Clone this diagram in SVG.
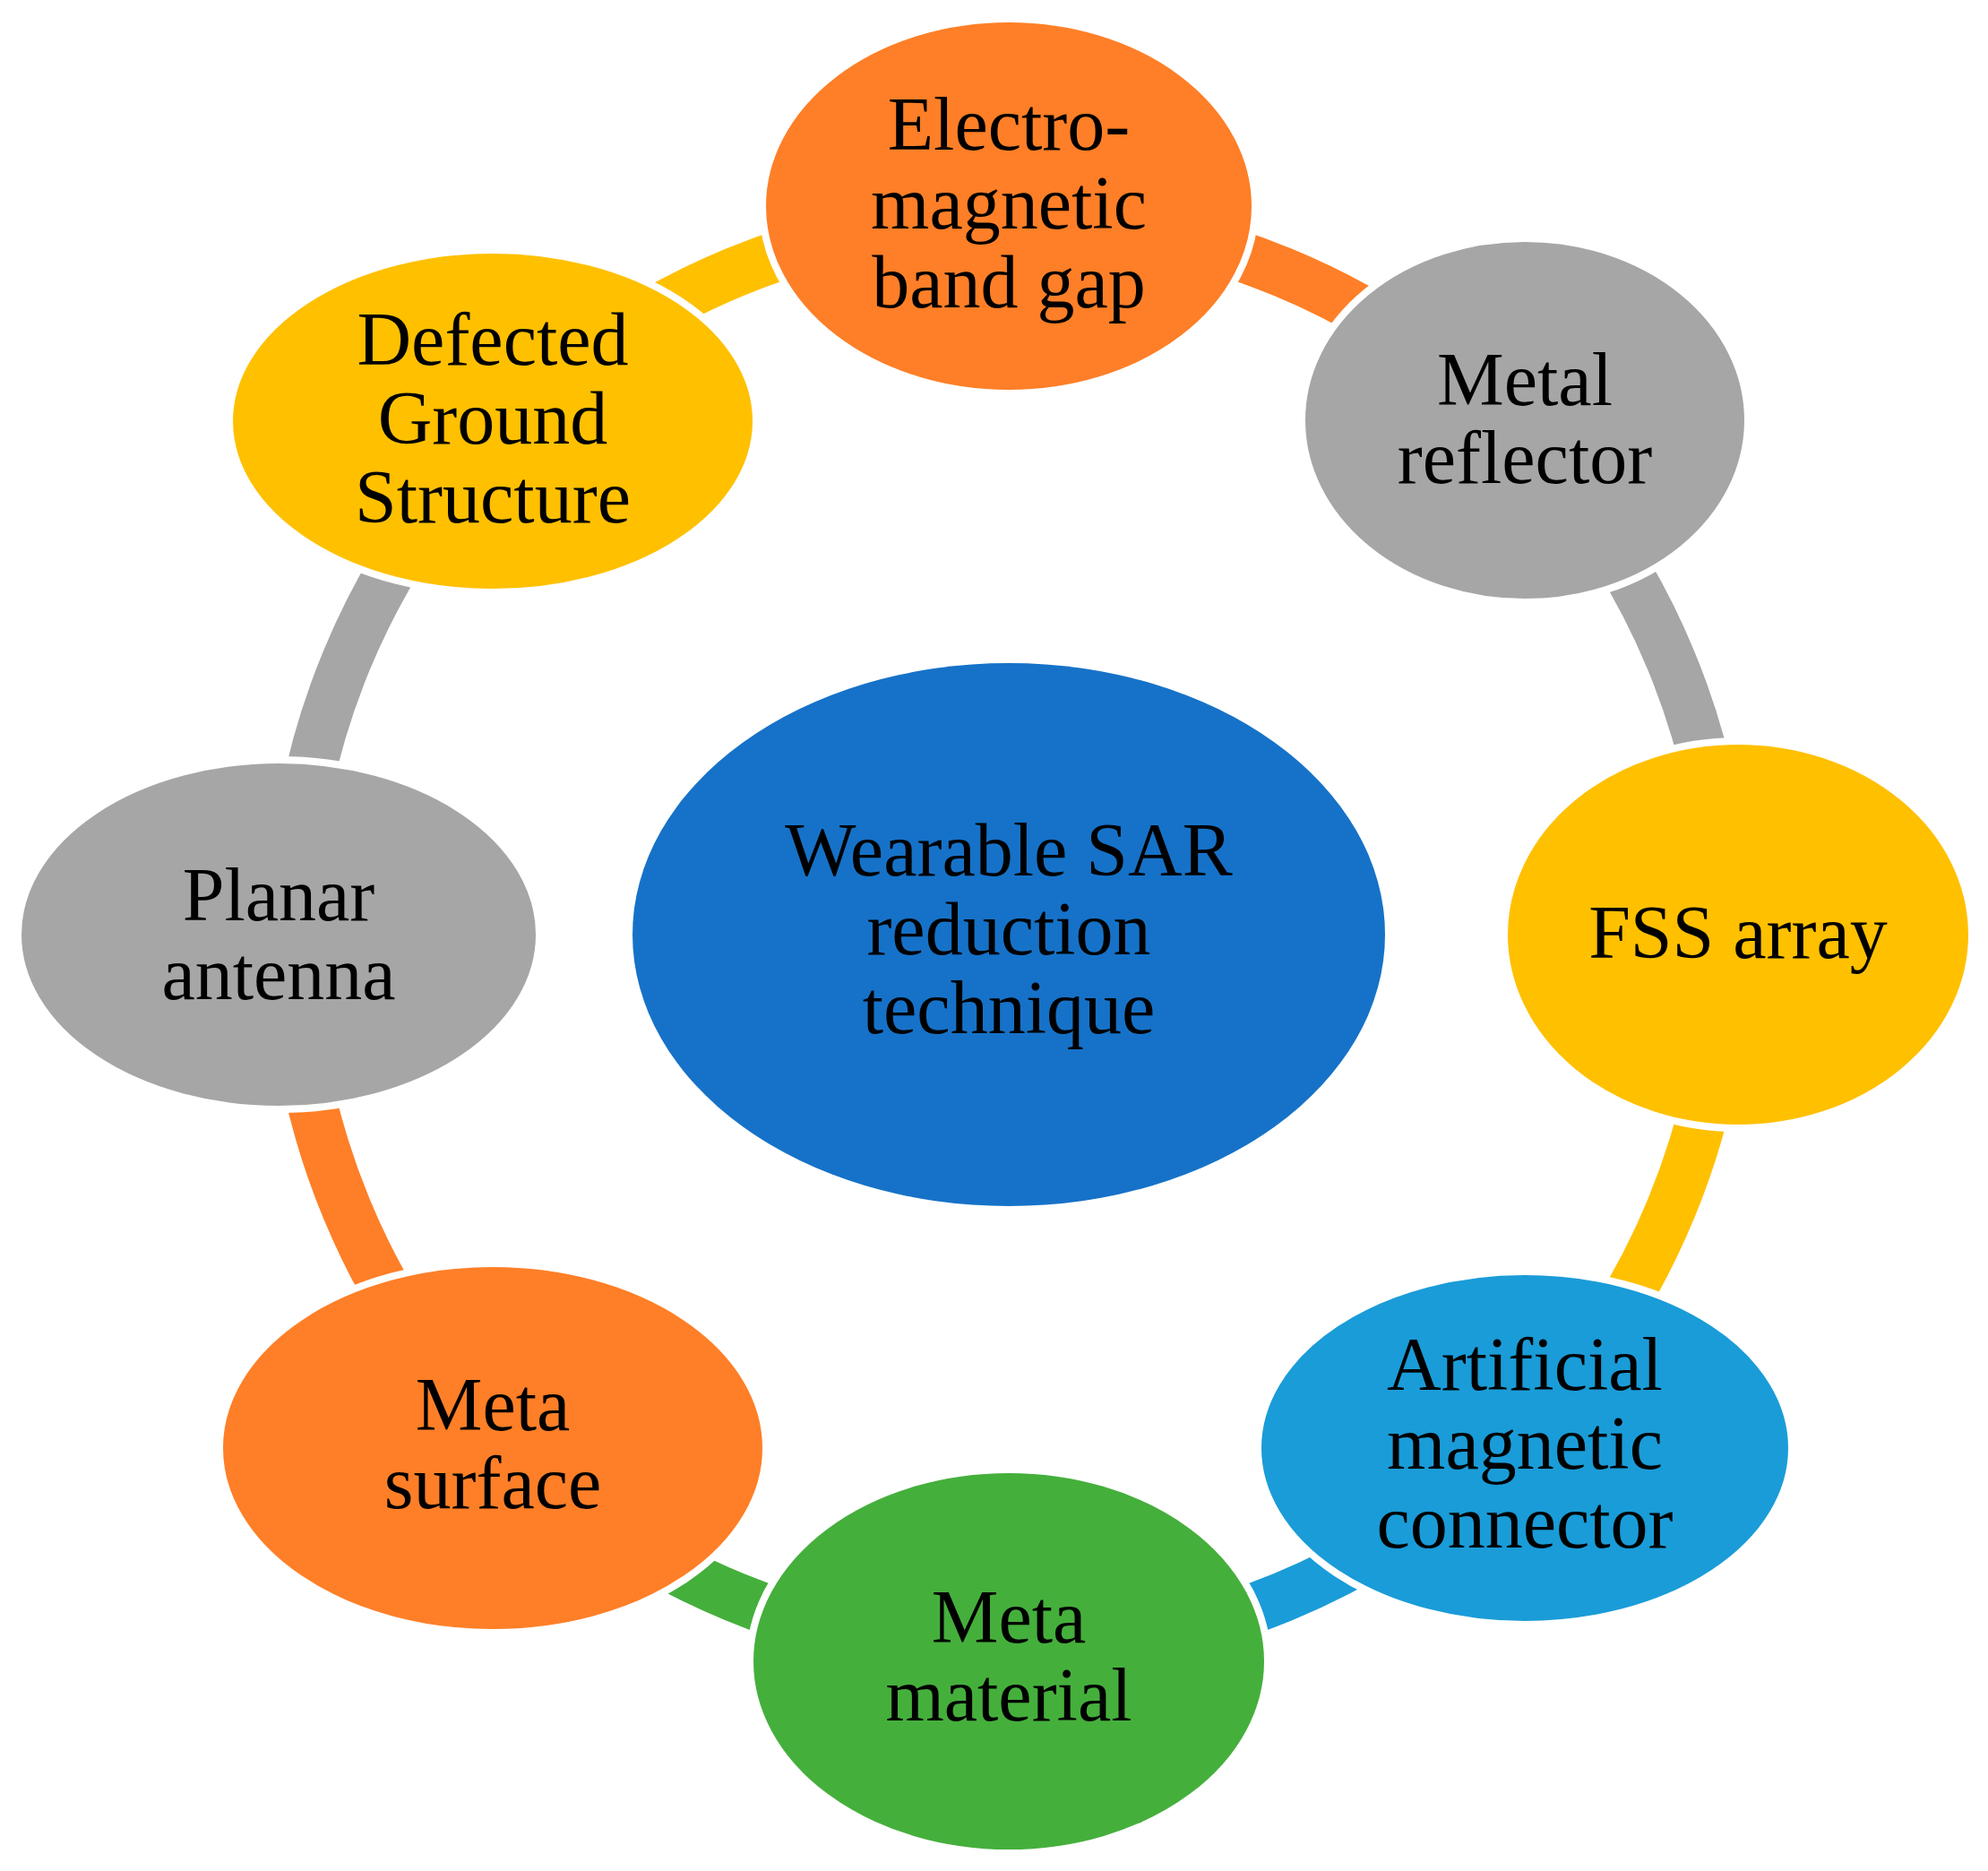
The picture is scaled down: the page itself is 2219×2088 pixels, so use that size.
<svg xmlns="http://www.w3.org/2000/svg" width="2219" height="2088" viewBox="0 0 2219 2088">
<style>
.arc{fill:none;stroke-width:56;stroke-linecap:butt}
.node{stroke:#FFFFFF;stroke-width:8}
.lbl{font-family:"Liberation Serif","Times New Roman",serif;font-size:84px;fill:#000000;text-anchor:middle}
.orange{fill:#FE7F27}.yellow{fill:#FFC000}.gray{fill:#A6A6A6}.blue{fill:#1672C8}.sky{fill:#1A9CD8}.green{fill:#45AF3C}
</style>
<rect width="2219" height="2088" fill="#FFFFFF"/>
<g id="connectors">
<path class="arc" stroke="#FE7F27" d="M1126,243 A800,800 0 0 1 1691.69,477.31"/>
<path class="arc" stroke="#A6A6A6" d="M1691.69,477.31 A800,800 0 0 1 1926,1043"/>
<path class="arc" stroke="#FFC000" d="M1926,1043 A800,800 0 0 1 1691.69,1608.69"/>
<path class="arc" stroke="#1A9CD8" d="M1691.69,1608.69 A800,800 0 0 1 1126,1843"/>
<path class="arc" stroke="#45AF3C" d="M1126,1843 A800,800 0 0 1 560.31,1608.69"/>
<path class="arc" stroke="#FE7F27" d="M560.31,1608.69 A800,800 0 0 1 326,1043"/>
<path class="arc" stroke="#A6A6A6" d="M326,1043 A800,800 0 0 1 560.31,477.31"/>
<path class="arc" stroke="#FFC000" d="M560.31,477.31 A800,800 0 0 1 1126,243"/>
</g>
<g id="node-center">
<ellipse class="blue" cx="1126" cy="1043" rx="420" ry="303"/>
<text class="lbl" x="1126" y="977">Wearable SAR</text>
<text class="lbl" x="1126" y="1065">reduction</text>
<text class="lbl" x="1126" y="1153">technique</text>
</g>
<g id="node-ebg">
<ellipse class="node orange" cx="1126" cy="230" rx="275" ry="209"/>
<text class="lbl" x="1126" y="167">Electro-</text>
<text class="lbl" x="1126" y="255">magnetic</text>
<text class="lbl" x="1126" y="343">band gap</text>
</g>
<g id="node-metal">
<ellipse class="node gray" cx="1702" cy="469" rx="249" ry="203"/>
<text class="lbl" x="1702" y="452">Metal</text>
<text class="lbl" x="1702" y="539">reflector</text>
</g>
<g id="node-fss">
<ellipse class="node yellow" cx="1940" cy="1043" rx="261" ry="216"/>
<text class="lbl" x="1940" y="1069">FSS array</text>
</g>
<g id="node-amc">
<ellipse class="node sky" cx="1702" cy="1616" rx="298" ry="197"/>
<text class="lbl" x="1702" y="1551">Artificial</text>
<text class="lbl" x="1702" y="1639">magnetic</text>
<text class="lbl" x="1702" y="1727">connector</text>
</g>
<g id="node-metamaterial">
<ellipse class="node green" cx="1126" cy="1854" rx="289" ry="214"/>
<text class="lbl" x="1126" y="1833">Meta</text>
<text class="lbl" x="1126" y="1920">material</text>
</g>
<g id="node-metasurface">
<ellipse class="node orange" cx="550" cy="1616" rx="305" ry="206"/>
<text class="lbl" x="550" y="1596">Meta</text>
<text class="lbl" x="550" y="1683">surface</text>
</g>
<g id="node-planar">
<ellipse class="node gray" cx="311" cy="1043" rx="291" ry="195"/>
<text class="lbl" x="311" y="1027">Planar</text>
<text class="lbl" x="311" y="1115">antenna</text>
</g>
<g id="node-dgs">
<ellipse class="node yellow" cx="550" cy="470" rx="294" ry="191"/>
<text class="lbl" x="550" y="407">Defected</text>
<text class="lbl" x="550" y="495">Ground</text>
<text class="lbl" x="550" y="583">Structure</text>
</g>
</svg>
